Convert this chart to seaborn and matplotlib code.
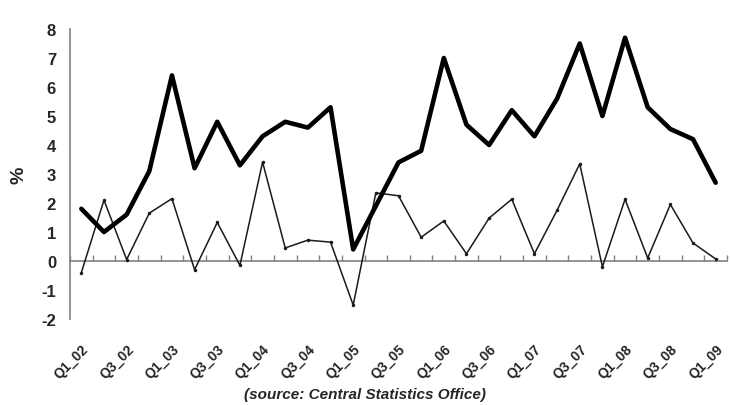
import matplotlib
matplotlib.use("Agg")
import matplotlib.pyplot as plt
import seaborn as sns
import pandas as pd
import numpy as np

quarters = [f"Q{q}_{y:02d}" for y in range(2, 9) for q in range(1, 5)] + ["Q1_09"]

thick_series = [1.8, 1.0, 1.6, 3.1, 6.4, 3.2, 4.8, 3.3, 4.3, 4.8, 4.6, 5.3,
                0.4, 1.9, 3.4, 3.8, 7.0, 4.7, 4.0, 5.2, 4.3, 5.6, 7.5, 5.0,
                7.7, 5.3, 4.55, 4.2, 2.7]
thin_series = [-0.4, 2.1, 0.05, 1.65, 2.15, -0.3, 1.33, -0.15, 3.41, 0.45, 0.72, 0.65,
               -1.52, 2.35, 2.25, 0.82, 1.38, 0.25, 1.48, 2.13, 0.25, 1.75, 3.35, -0.2,
               2.13, 0.1, 1.95, 0.62, 0.07]

y_ticks = [-2, -1, 0, 1, 2, 3, 4, 5, 6, 7, 8]
label_quarters = quarters[::2]
source_text = "(source: Central Statistics Office)"
y_label = "%"

sns.set_style("white")
plt.rcParams["font.family"] = ["Liberation Sans", "DejaVu Sans"]

df = pd.DataFrame({
    "pos": list(range(len(quarters))) * 2,
    "value": thick_series + thin_series,
    "series": ["thick"] * len(quarters) + ["thin"] * len(quarters),
})

fig = plt.figure(figsize=(7.31, 4.06), dpi=100)
ax = fig.add_axes([70 / 731, 1 - 320 / 406, 657 / 731, 290 / 406])

sns.lineplot(data=df[df.series == "thin"], x="pos", y="value", ax=ax,
             color="#1a1a1a", linewidth=1.1, marker="o", markersize=2.5,
             markeredgewidth=0, legend=False, zorder=3)
sns.lineplot(data=df[df.series == "thick"], x="pos", y="value", ax=ax,
             color="black", linewidth=3.3, legend=False, zorder=4)

n = len(quarters)
ax.set_xlim(-0.5, n - 0.5)
ax.set_ylim(-2, 8)
ax.set_yticks(y_ticks)
ax.set_yticklabels([str(t) for t in y_ticks], fontsize=12, fontweight="bold")
ax.tick_params(axis="y", direction="out", length=4, width=1, color="#808080", pad=6)

for s in ["top", "right", "bottom"]:
    ax.spines[s].set_visible(False)
ax.spines["left"].set_color("#808080")
ax.spines["left"].set_linewidth(1.2)

ax.set_xticks(range(0, n, 2))
ax.set_xticklabels(label_quarters, rotation=45, ha="right", rotation_mode="anchor",
                   fontsize=10, fontweight="bold")
ax.tick_params(axis="x", length=0, pad=16)

# zero line with category boundary ticks
zero_frac = (0 - (-2)) / 10
sec = ax.secondary_xaxis(zero_frac)
sec.set_xticks(np.arange(-0.5, n, 1.0))
sec.set_xticklabels([])
sec.tick_params(axis="x", direction="in", length=4, width=1, color="#808080")
sec.spines["bottom"].set_color("#808080")
sec.spines["bottom"].set_linewidth(1.2)
if "top" in sec.spines:
    sec.spines["top"].set_visible(False)

ax.set_xlabel("")
ax.set_ylabel(y_label, fontsize=14, fontweight="bold", labelpad=10)

fig.text(0.5, 11 / 406, source_text, ha="center", va="center",
         fontsize=11, fontweight="bold", fontstyle="italic",
         family=["Liberation Sans Narrow", "Liberation Sans", "DejaVu Sans"])

fig.savefig("out.png", dpi=100)
